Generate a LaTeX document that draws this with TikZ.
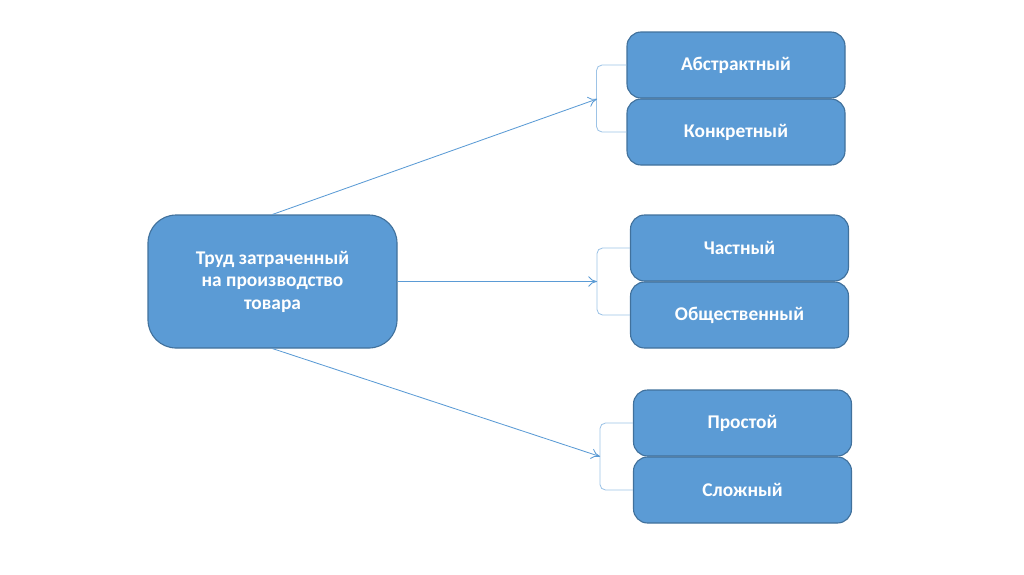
\documentclass[tikz,border=0pt]{standalone}
\usepackage{fontspec}
\setmainfont{Carlito}
\usetikzlibrary{arrows.meta,positioning}
\definecolor{Fill}{HTML}{5B9BD5}
\definecolor{Edge}{HTML}{41719C}
\definecolor{Brace}{HTML}{9DC3E6}

\begin{document}
\begin{tikzpicture}[x=0.025cm,y=-0.025cm,
  kind/.style={rounded corners=10pt,draw=Edge,fill=Fill,thick,minimum width=218*0.025cm,minimum height=66*0.025cm,align=center,font=\bfseries\fontsize{13.8}{16}\selectfont,text=white},
  root/.style={kind,rounded corners=20pt,minimum width=249*0.025cm,minimum height=133*0.025cm},
  arrow/.style={-{To[length=2.2mm,width=2.6mm]},draw=Fill,semithick},
  brace/.style={draw=Brace,semithick,rounded corners=4pt}
]
\useasboundingbox (0,0) rectangle (1024,574);
\node[root] (labor) at (272.5,281.5) {Труд затраченный\\на производство\\товара};
\node[kind] (abstr) at (736,65) {Абстрактный};
\node[kind] (konkr) at (736,132) {Конкретный};
\node[kind] (chast) at (739.5,248) {Частный};
\node[kind] (obsh) at (739.5,315) {Общественный};
\node[kind] (prost) at (742.5,423) {Простой};
\node[kind] (slozh) at (742.5,490) {Сложный};
% brackets
\draw[brace] (abstr.west) -- ++(-30,0) |- (konkr.west);
\draw[brace] (chast.west) -- ++(-33,0) |- (obsh.west);
\draw[brace] (prost.west) -- ++(-33,0) |- (slozh.west);
\coordinate (b1) at (597,99);
\coordinate (b2) at (597,281.5);
\coordinate (b3) at (600,456.5);
% arrows
\draw[arrow] (labor.north) -- (b1);
\draw[arrow] (labor.east) -- (b2);
\draw[arrow] (labor.south) -- (b3);
\end{tikzpicture}
\end{document}
